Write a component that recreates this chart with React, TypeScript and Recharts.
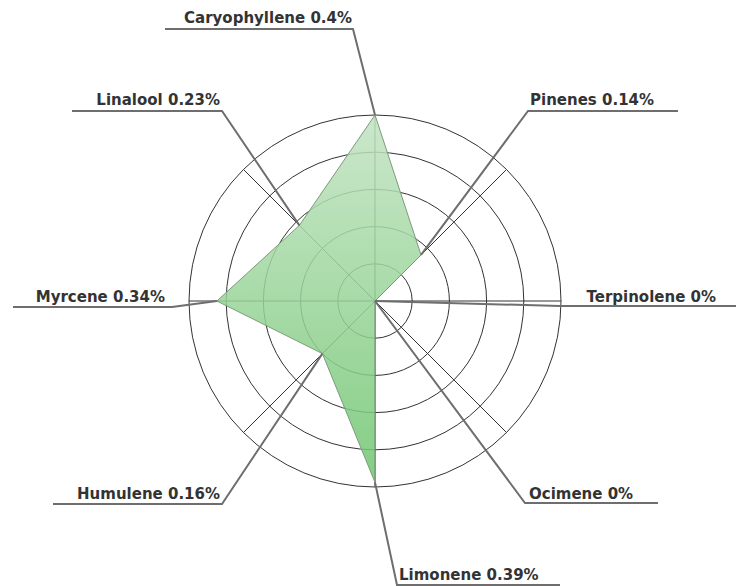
import { RadarChart, Radar, PolarGrid, PolarAngleAxis, PolarRadiusAxis } from "recharts"

const terpenes = [
  "Caryophyllene",
  "Pinenes",
  "Terpinolene",
  "Ocimene",
  "Limonene",
  "Humulene",
  "Myrcene",
  "Linalool",
]
const percents = [0.4, 0.14, 0, 0, 0.39, 0.16, 0.34, 0.23]
const radiusDomain = [0, 0.4]
const ringTicks = [0, 0.08, 0.16, 0.24, 0.32, 0.4]

// leader line layout for each label: elbow point, end of underline, text position
const labelLayout = [
  { ex: 353, ey: 29, ux: 165, tx: 352, ty: 23, anchor: "end" },
  { ex: 528, ey: 111, ux: 678, tx: 530, ty: 105, anchor: "start" },
  { ex: 560, ey: 306, ux: 740, tx: 716, ty: 302, anchor: "end" },
  { ex: 525, ey: 503, ux: 658, tx: 529, ty: 499, anchor: "start" },
  { ex: 397, ey: 585, ux: 560, tx: 399, ty: 580, anchor: "start" },
  { ex: 222, ey: 504, ux: 53, tx: 220, ty: 499, anchor: "end" },
  { ex: 172, ey: 307, ux: 13, tx: 165, ty: 302, anchor: "end" },
  { ex: 222, ey: 111, ux: 72, tx: 220, ty: 105, anchor: "end" },
]

const data = terpenes.map((name, i) => ({ name, value: percents[i] }))

function LeaderLabel(props: any) {
  const { cx, cy, index } = props
  const l = labelLayout[index]
  if (!l || cx == null) return <g key={`lbl-${index}`} />
  return (
    <g key={`lbl-${index}`}>
      <polyline
        points={`${cx},${cy} ${l.ex},${l.ey} ${l.ux},${l.ey}`}
        fill="none"
        stroke="#6e6e6e"
        strokeWidth={2}
      />
      <text
        x={l.tx}
        y={l.ty}
        textAnchor={l.anchor}
        fontFamily="'DejaVu Sans', Verdana, sans-serif"
        fontWeight="bold"
        fontSize={15}
        fill="#333"
      >
        {`${terpenes[index]} ${percents[index]}%`}
      </text>
    </g>
  )
}

export default function App() {
  return (
    <div style={{ position: "absolute", left: 0, top: 0 }}>
      <RadarChart
        width={736}
        height={586}
        data={data}
        cx={375}
        cy={301}
        outerRadius={186}
        margin={{ top: 0, right: 0, bottom: 0, left: 0 }}
      >
        <defs>
          <linearGradient id="terpFill" x1="0" y1="0" x2="0" y2="1">
            <stop offset="0%" stopColor="#c2e3c2" />
            <stop offset="100%" stopColor="#6fc56f" />
          </linearGradient>
        </defs>
        <PolarGrid gridType="circle" stroke="#333" strokeWidth={1} />
        <PolarAngleAxis dataKey="name" tick={false} axisLine={false} />
        <PolarRadiusAxis
          domain={radiusDomain}
          ticks={ringTicks}
          tick={{ fill: "none", stroke: "none" }}
          axisLine={false}
        />
        <Radar
          dataKey="value"
          stroke="#7d9a7d"
          strokeWidth={1}
          fill="url(#terpFill)"
          fillOpacity={0.85}
          dot={LeaderLabel}
          isAnimationActive={false}
        />
      </RadarChart>
    </div>
  )
}
